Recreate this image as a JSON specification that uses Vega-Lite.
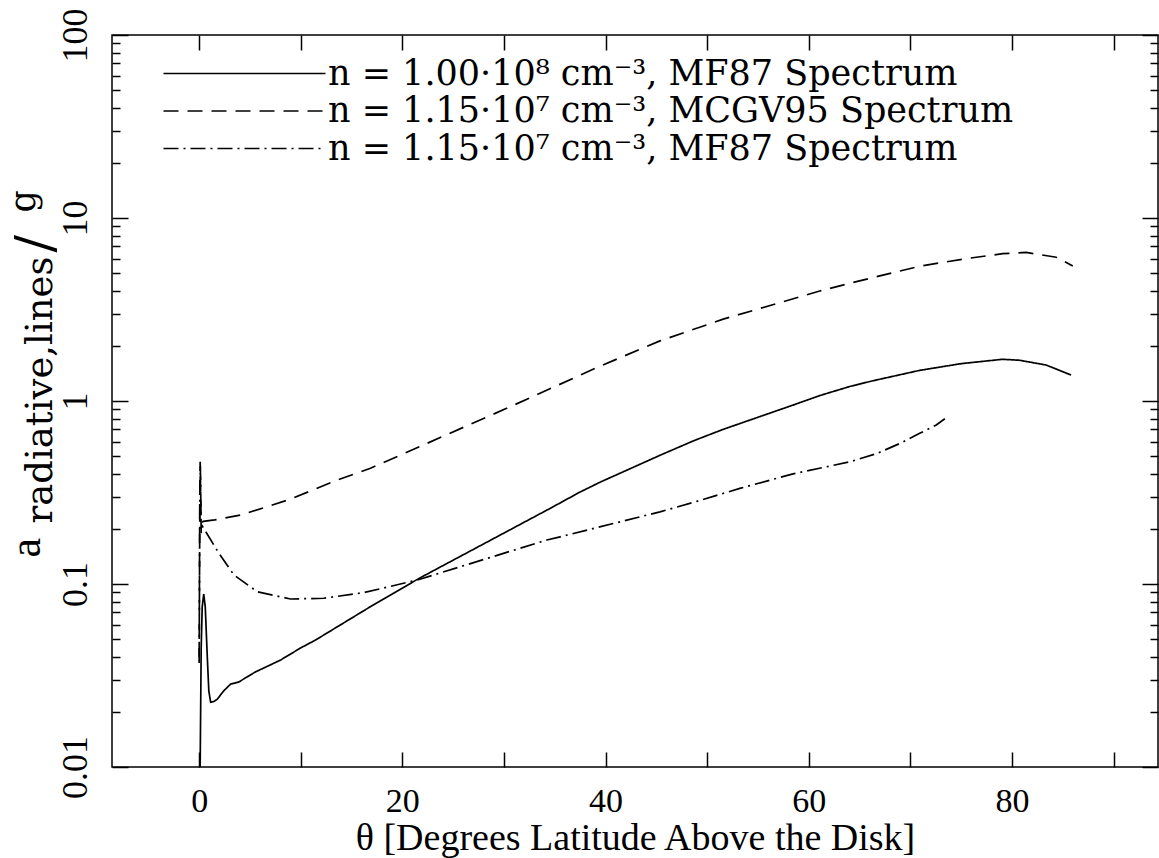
{
  "$schema": "https://vega.github.io/schema/vega-lite/v6.json",
  "width": 1046,
  "height": 732,
  "autosize": {"type": "none"},
  "padding": {"left": 112, "top": 35, "right": 1, "bottom": 91},
  "background": "white",
  "config": {
    "view": {"stroke": "black", "strokeWidth": 1.5},
    "axis": {
      "domain": false,
      "grid": false,
      "tickColor": "black",
      "tickWidth": 1.5,
      "labelColor": "black",
      "titleColor": "black",
      "labelFont": "Liberation Serif",
      "titleFont": "Liberation Serif",
      "titleFontWeight": "normal",
      "labelOverlap": false,
      "labelFlush": false
    }
  },
  "datasets": {
    "curves": [
      {"series": "n = 1.00·10⁸ cm⁻³, MF87 Spectrum", "theta": 0.05, "accel": 0.005},
      {"series": "n = 1.00·10⁸ cm⁻³, MF87 Spectrum", "theta": 0.2, "accel": 0.045},
      {"series": "n = 1.00·10⁸ cm⁻³, MF87 Spectrum", "theta": 0.3, "accel": 0.075},
      {"series": "n = 1.00·10⁸ cm⁻³, MF87 Spectrum", "theta": 0.45, "accel": 0.088},
      {"series": "n = 1.00·10⁸ cm⁻³, MF87 Spectrum", "theta": 0.6, "accel": 0.075},
      {"series": "n = 1.00·10⁸ cm⁻³, MF87 Spectrum", "theta": 0.8, "accel": 0.04},
      {"series": "n = 1.00·10⁸ cm⁻³, MF87 Spectrum", "theta": 0.95, "accel": 0.026},
      {"series": "n = 1.00·10⁸ cm⁻³, MF87 Spectrum", "theta": 1.13, "accel": 0.0226},
      {"series": "n = 1.00·10⁸ cm⁻³, MF87 Spectrum", "theta": 1.45, "accel": 0.0228},
      {"series": "n = 1.00·10⁸ cm⁻³, MF87 Spectrum", "theta": 1.79, "accel": 0.0235},
      {"series": "n = 1.00·10⁸ cm⁻³, MF87 Spectrum", "theta": 2.4, "accel": 0.026},
      {"series": "n = 1.00·10⁸ cm⁻³, MF87 Spectrum", "theta": 3.1, "accel": 0.0284},
      {"series": "n = 1.00·10⁸ cm⁻³, MF87 Spectrum", "theta": 3.88, "accel": 0.0291},
      {"series": "n = 1.00·10⁸ cm⁻³, MF87 Spectrum", "theta": 5.5, "accel": 0.033},
      {"series": "n = 1.00·10⁸ cm⁻³, MF87 Spectrum", "theta": 8.01, "accel": 0.0384},
      {"series": "n = 1.00·10⁸ cm⁻³, MF87 Spectrum", "theta": 9.98, "accel": 0.0447},
      {"series": "n = 1.00·10⁸ cm⁻³, MF87 Spectrum", "theta": 11.45, "accel": 0.0494},
      {"series": "n = 1.00·10⁸ cm⁻³, MF87 Spectrum", "theta": 16.86, "accel": 0.0752},
      {"series": "n = 1.00·10⁸ cm⁻³, MF87 Spectrum", "theta": 21.6, "accel": 0.107},
      {"series": "n = 1.00·10⁸ cm⁻³, MF87 Spectrum", "theta": 34.55, "accel": 0.259},
      {"series": "n = 1.00·10⁸ cm⁻³, MF87 Spectrum", "theta": 37.49, "accel": 0.318},
      {"series": "n = 1.00·10⁸ cm⁻³, MF87 Spectrum", "theta": 39.46, "accel": 0.36},
      {"series": "n = 1.00·10⁸ cm⁻³, MF87 Spectrum", "theta": 45.36, "accel": 0.505},
      {"series": "n = 1.00·10⁸ cm⁻³, MF87 Spectrum", "theta": 48.63, "accel": 0.605},
      {"series": "n = 1.00·10⁸ cm⁻³, MF87 Spectrum", "theta": 51.58, "accel": 0.70},
      {"series": "n = 1.00·10⁸ cm⁻³, MF87 Spectrum", "theta": 58.46, "accel": 0.95},
      {"series": "n = 1.00·10⁸ cm⁻³, MF87 Spectrum", "theta": 61.08, "accel": 1.07},
      {"series": "n = 1.00·10⁸ cm⁻³, MF87 Spectrum", "theta": 64.03, "accel": 1.20},
      {"series": "n = 1.00·10⁸ cm⁻³, MF87 Spectrum", "theta": 66.32, "accel": 1.29},
      {"series": "n = 1.00·10⁸ cm⁻³, MF87 Spectrum", "theta": 70.92, "accel": 1.47},
      {"series": "n = 1.00·10⁸ cm⁻³, MF87 Spectrum", "theta": 75.0, "accel": 1.60},
      {"series": "n = 1.00·10⁸ cm⁻³, MF87 Spectrum", "theta": 79.07, "accel": 1.69},
      {"series": "n = 1.00·10⁸ cm⁻³, MF87 Spectrum", "theta": 80.74, "accel": 1.67},
      {"series": "n = 1.00·10⁸ cm⁻³, MF87 Spectrum", "theta": 83.36, "accel": 1.573},
      {"series": "n = 1.00·10⁸ cm⁻³, MF87 Spectrum", "theta": 85.82, "accel": 1.387},

      {"series": "n = 1.15·10⁷ cm⁻³, MCGV95 Spectrum", "theta": 0.0, "accel": 0.037},
      {"series": "n = 1.15·10⁷ cm⁻³, MCGV95 Spectrum", "theta": 0.06, "accel": 0.3},
      {"series": "n = 1.15·10⁷ cm⁻³, MCGV95 Spectrum", "theta": 0.1, "accel": 0.466},
      {"series": "n = 1.15·10⁷ cm⁻³, MCGV95 Spectrum", "theta": 0.15, "accel": 0.3},
      {"series": "n = 1.15·10⁷ cm⁻³, MCGV95 Spectrum", "theta": 0.2, "accel": 0.215},
      {"series": "n = 1.15·10⁷ cm⁻³, MCGV95 Spectrum", "theta": 0.4, "accel": 0.22},
      {"series": "n = 1.15·10⁷ cm⁻³, MCGV95 Spectrum", "theta": 1.53, "accel": 0.224},
      {"series": "n = 1.15·10⁷ cm⁻³, MCGV95 Spectrum", "theta": 4.09, "accel": 0.238},
      {"series": "n = 1.15·10⁷ cm⁻³, MCGV95 Spectrum", "theta": 9.0, "accel": 0.291},
      {"series": "n = 1.15·10⁷ cm⁻³, MCGV95 Spectrum", "theta": 13.6, "accel": 0.37},
      {"series": "n = 1.15·10⁷ cm⁻³, MCGV95 Spectrum", "theta": 16.86, "accel": 0.429},
      {"series": "n = 1.15·10⁷ cm⁻³, MCGV95 Spectrum", "theta": 30.63, "accel": 0.931},
      {"series": "n = 1.15·10⁷ cm⁻³, MCGV95 Spectrum", "theta": 39.46, "accel": 1.55},
      {"series": "n = 1.15·10⁷ cm⁻³, MCGV95 Spectrum", "theta": 45.36, "accel": 2.13},
      {"series": "n = 1.15·10⁷ cm⁻³, MCGV95 Spectrum", "theta": 51.58, "accel": 2.80},
      {"series": "n = 1.15·10⁷ cm⁻³, MCGV95 Spectrum", "theta": 61.08, "accel": 3.99},
      {"series": "n = 1.15·10⁷ cm⁻³, MCGV95 Spectrum", "theta": 64.03, "accel": 4.40},
      {"series": "n = 1.15·10⁷ cm⁻³, MCGV95 Spectrum", "theta": 70.92, "accel": 5.45},
      {"series": "n = 1.15·10⁷ cm⁻³, MCGV95 Spectrum", "theta": 75.5, "accel": 6.0},
      {"series": "n = 1.15·10⁷ cm⁻³, MCGV95 Spectrum", "theta": 79.1, "accel": 6.38},
      {"series": "n = 1.15·10⁷ cm⁻³, MCGV95 Spectrum", "theta": 81.4, "accel": 6.49},
      {"series": "n = 1.15·10⁷ cm⁻³, MCGV95 Spectrum", "theta": 84.36, "accel": 6.10},
      {"series": "n = 1.15·10⁷ cm⁻³, MCGV95 Spectrum", "theta": 85.99, "accel": 5.47},

      {"series": "n = 1.15·10⁷ cm⁻³, MF87 Spectrum", "theta": 0.0, "accel": 0.04},
      {"series": "n = 1.15·10⁷ cm⁻³, MF87 Spectrum", "theta": 0.07, "accel": 0.3},
      {"series": "n = 1.15·10⁷ cm⁻³, MF87 Spectrum", "theta": 0.12, "accel": 0.44},
      {"series": "n = 1.15·10⁷ cm⁻³, MF87 Spectrum", "theta": 0.2, "accel": 0.19},
      {"series": "n = 1.15·10⁷ cm⁻³, MF87 Spectrum", "theta": 0.34, "accel": 0.206},
      {"series": "n = 1.15·10⁷ cm⁻³, MF87 Spectrum", "theta": 1.95, "accel": 0.147},
      {"series": "n = 1.15·10⁷ cm⁻³, MF87 Spectrum", "theta": 3.42, "accel": 0.112},
      {"series": "n = 1.15·10⁷ cm⁻³, MF87 Spectrum", "theta": 5.72, "accel": 0.0907},
      {"series": "n = 1.15·10⁷ cm⁻³, MF87 Spectrum", "theta": 8.99, "accel": 0.0828},
      {"series": "n = 1.15·10⁷ cm⁻³, MF87 Spectrum", "theta": 12.27, "accel": 0.0836},
      {"series": "n = 1.15·10⁷ cm⁻³, MF87 Spectrum", "theta": 16.2, "accel": 0.0897},
      {"series": "n = 1.15·10⁷ cm⁻³, MF87 Spectrum", "theta": 21.44, "accel": 0.105},
      {"series": "n = 1.15·10⁷ cm⁻³, MF87 Spectrum", "theta": 34.22, "accel": 0.174},
      {"series": "n = 1.15·10⁷ cm⁻³, MF87 Spectrum", "theta": 35.53, "accel": 0.181},
      {"series": "n = 1.15·10⁷ cm⁻³, MF87 Spectrum", "theta": 45.36, "accel": 0.248},
      {"series": "n = 1.15·10⁷ cm⁻³, MF87 Spectrum", "theta": 48.63, "accel": 0.279},
      {"series": "n = 1.15·10⁷ cm⁻³, MF87 Spectrum", "theta": 53.22, "accel": 0.333},
      {"series": "n = 1.15·10⁷ cm⁻³, MF87 Spectrum", "theta": 58.46, "accel": 0.40},
      {"series": "n = 1.15·10⁷ cm⁻³, MF87 Spectrum", "theta": 62.0, "accel": 0.44},
      {"series": "n = 1.15·10⁷ cm⁻³, MF87 Spectrum", "theta": 64.03, "accel": 0.465},
      {"series": "n = 1.15·10⁷ cm⁻³, MF87 Spectrum", "theta": 66.65, "accel": 0.515},
      {"series": "n = 1.15·10⁷ cm⁻³, MF87 Spectrum", "theta": 68.94, "accel": 0.585},
      {"series": "n = 1.15·10⁷ cm⁻³, MF87 Spectrum", "theta": 70.92, "accel": 0.666},
      {"series": "n = 1.15·10⁷ cm⁻³, MF87 Spectrum", "theta": 72.55, "accel": 0.739},
      {"series": "n = 1.15·10⁷ cm⁻³, MF87 Spectrum", "theta": 73.4, "accel": 0.80}
    ]
  },
  "data": {"name": "curves"},
  "layer": [
    {
      "transform": [{"filter": {"field": "series", "equal": "n = 1.00·10⁸ cm⁻³, MF87 Spectrum"}}],
      "mark": {"type": "line", "clip": true, "color": "black", "strokeWidth": 1.7, "strokeCap": "butt"},
      "encoding": {
        "x": {
          "field": "theta", "type": "quantitative",
          "scale": {"domain": [-8.58, 94.38], "nice": false, "zero": false},
          "axis": {
            "orient": "bottom",
            "offset": -15,
            "values": [0, 10, 20, 30, 40, 50, 60, 70, 80, 90],
            "tickSize": 15,
            "labelExpr": "datum.value % 20 === 0 ? datum.label : ''",
            "labelFontSize": 34,
            "labelPadding": 17,
            "title": "θ [Degrees Latitude Above the Disk]",
            "titleFontSize": 38,
            "titlePadding": 1
          }
        },
        "y": {
          "field": "accel", "type": "quantitative",
          "scale": {"type": "log", "domain": [0.01, 100], "nice": false},
          "axis": {
            "orient": "left",
            "offset": -16,
            "values": [0.01, 0.02, 0.03, 0.04, 0.05, 0.06, 0.07, 0.08, 0.09, 0.1, 0.2, 0.3, 0.4, 0.5, 0.6, 0.7, 0.8, 0.9, 1, 2, 3, 4, 5, 6, 7, 8, 9, 10, 20, 30, 40, 50, 60, 70, 80, 90, 100],
            "tickSize": 16,
            "tickDash": {"condition": {"test": "datum.value === 0.01 || datum.value === 0.1 || datum.value === 1 || datum.value === 10 || datum.value === 100", "value": [16, 16]}, "value": [8, 8]},
            "tickDashOffset": {"condition": {"test": "datum.value === 0.01 || datum.value === 0.1 || datum.value === 1 || datum.value === 10 || datum.value === 100", "value": 0}, "value": 8},
            "labelExpr": "datum.value === 0.01 ? '0.01' : datum.value === 0.1 ? '0.1' : datum.value === 1 ? '1' : datum.value === 10 ? '10' : datum.value === 100 ? '100' : ''",
            "labelAngle": 270,
            "labelAlign": "center",
            "labelBaseline": "alphabetic",
            "labelFontSize": 36,
            "labelPadding": 26,
            "title": "a",
            "titleFontSize": 44,
            "titleAngle": 270,
            "titleAlign": "left",
            "titleBaseline": "alphabetic",
            "titleX": -89,
            "titleY": 522
          }
        },
        "strokeDash": {
          "field": "series", "type": "nominal",
          "scale": {
            "domain": ["n = 1.00·10⁸ cm⁻³, MF87 Spectrum", "n = 1.15·10⁷ cm⁻³, MCGV95 Spectrum", "n = 1.15·10⁷ cm⁻³, MF87 Spectrum"],
            "range": [[1, 0], [15, 9], [15, 5, 2, 5]]
          },
          "legend": {
            "orient": "none",
            "legendX": 34,
            "legendY": 21,
            "title": null,
            "padding": 0,
            "symbolType": "M0,0H32.4",
            "symbolSize": 100,
            "symbolStrokeWidth": 1.7,
            "symbolStrokeColor": "black",
            "labelFont": "DejaVu Serif",
            "labelFontSize": 35,
            "labelColor": "black",
            "labelLimit": 1000,
            "labelOffset": 147,
            "rowPadding": 1.5
          }
        }
      }
    },
    {
      "transform": [{"filter": {"field": "series", "equal": "n = 1.15·10⁷ cm⁻³, MCGV95 Spectrum"}}],
      "mark": {"type": "line", "clip": true, "color": "black", "strokeWidth": 1.7, "strokeCap": "butt"},
      "encoding": {
        "x": {
          "field": "theta", "type": "quantitative",
          "scale": {"domain": [-8.58, 94.38], "nice": false, "zero": false},
          "axis": {
            "orient": "top",
            "offset": -15,
            "values": [0, 10, 20, 30, 40, 50, 60, 70, 80, 90],
            "tickSize": 15,
            "labels": false,
            "title": "g",
            "titleFont": "DejaVu Serif",
            "titleFontSize": 35,
            "titleAngle": 270,
            "titleAlign": "left",
            "titleBaseline": "alphabetic",
            "titleX": -78,
            "titleY": 162
          }
        },
        "y": {
          "field": "accel", "type": "quantitative",
          "scale": {"type": "log", "domain": [0.01, 100], "nice": false},
          "axis": {
            "orient": "right",
            "offset": -16,
            "values": [0.01, 0.02, 0.03, 0.04, 0.05, 0.06, 0.07, 0.08, 0.09, 0.1, 0.2, 0.3, 0.4, 0.5, 0.6, 0.7, 0.8, 0.9, 1, 2, 3, 4, 5, 6, 7, 8, 9, 10, 20, 30, 40, 50, 60, 70, 80, 90, 100],
            "tickSize": 16,
            "tickDash": {"condition": {"test": "datum.value === 0.01 || datum.value === 0.1 || datum.value === 1 || datum.value === 10 || datum.value === 100", "value": [16, 16]}, "value": [8, 8]},
            "tickDashOffset": {"condition": {"test": "datum.value === 0.01 || datum.value === 0.1 || datum.value === 1 || datum.value === 10 || datum.value === 100", "value": 0}, "value": 8},
            "labels": false,
            "title": "/",
            "titleFont": "DejaVu Serif",
            "titleFontSize": 52,
            "titleAngle": 270,
            "titleAlign": "left",
            "titleBaseline": "alphabetic",
            "titleX": -1091,
            "titleY": 217
          }
        },
        "strokeDash": {"field": "series", "type": "nominal"}
      }
    },
    {
      "transform": [{"filter": {"field": "series", "equal": "n = 1.15·10⁷ cm⁻³, MF87 Spectrum"}}],
      "mark": {"type": "line", "clip": true, "color": "black", "strokeWidth": 1.7, "strokeCap": "butt"},
      "encoding": {
        "x": {
          "field": "theta", "type": "quantitative",
          "scale": {"domain": [-8.58, 94.38], "nice": false, "zero": false},
          "axis": null
        },
        "y": {
          "field": "accel", "type": "quantitative",
          "scale": {"type": "log", "domain": [0.01, 100], "nice": false},
          "axis": {
            "orient": "left",
            "ticks": false,
            "labels": false,
            "domain": false,
            "title": "radiative,lines",
            "titleFont": "DejaVu Serif",
            "titleFontSize": 37,
            "titleAngle": 270,
            "titleAlign": "left",
            "titleBaseline": "alphabetic",
            "titleX": -61,
            "titleY": 488
          }
        },
        "strokeDash": {"field": "series", "type": "nominal"}
      }
    }
  ]
}
